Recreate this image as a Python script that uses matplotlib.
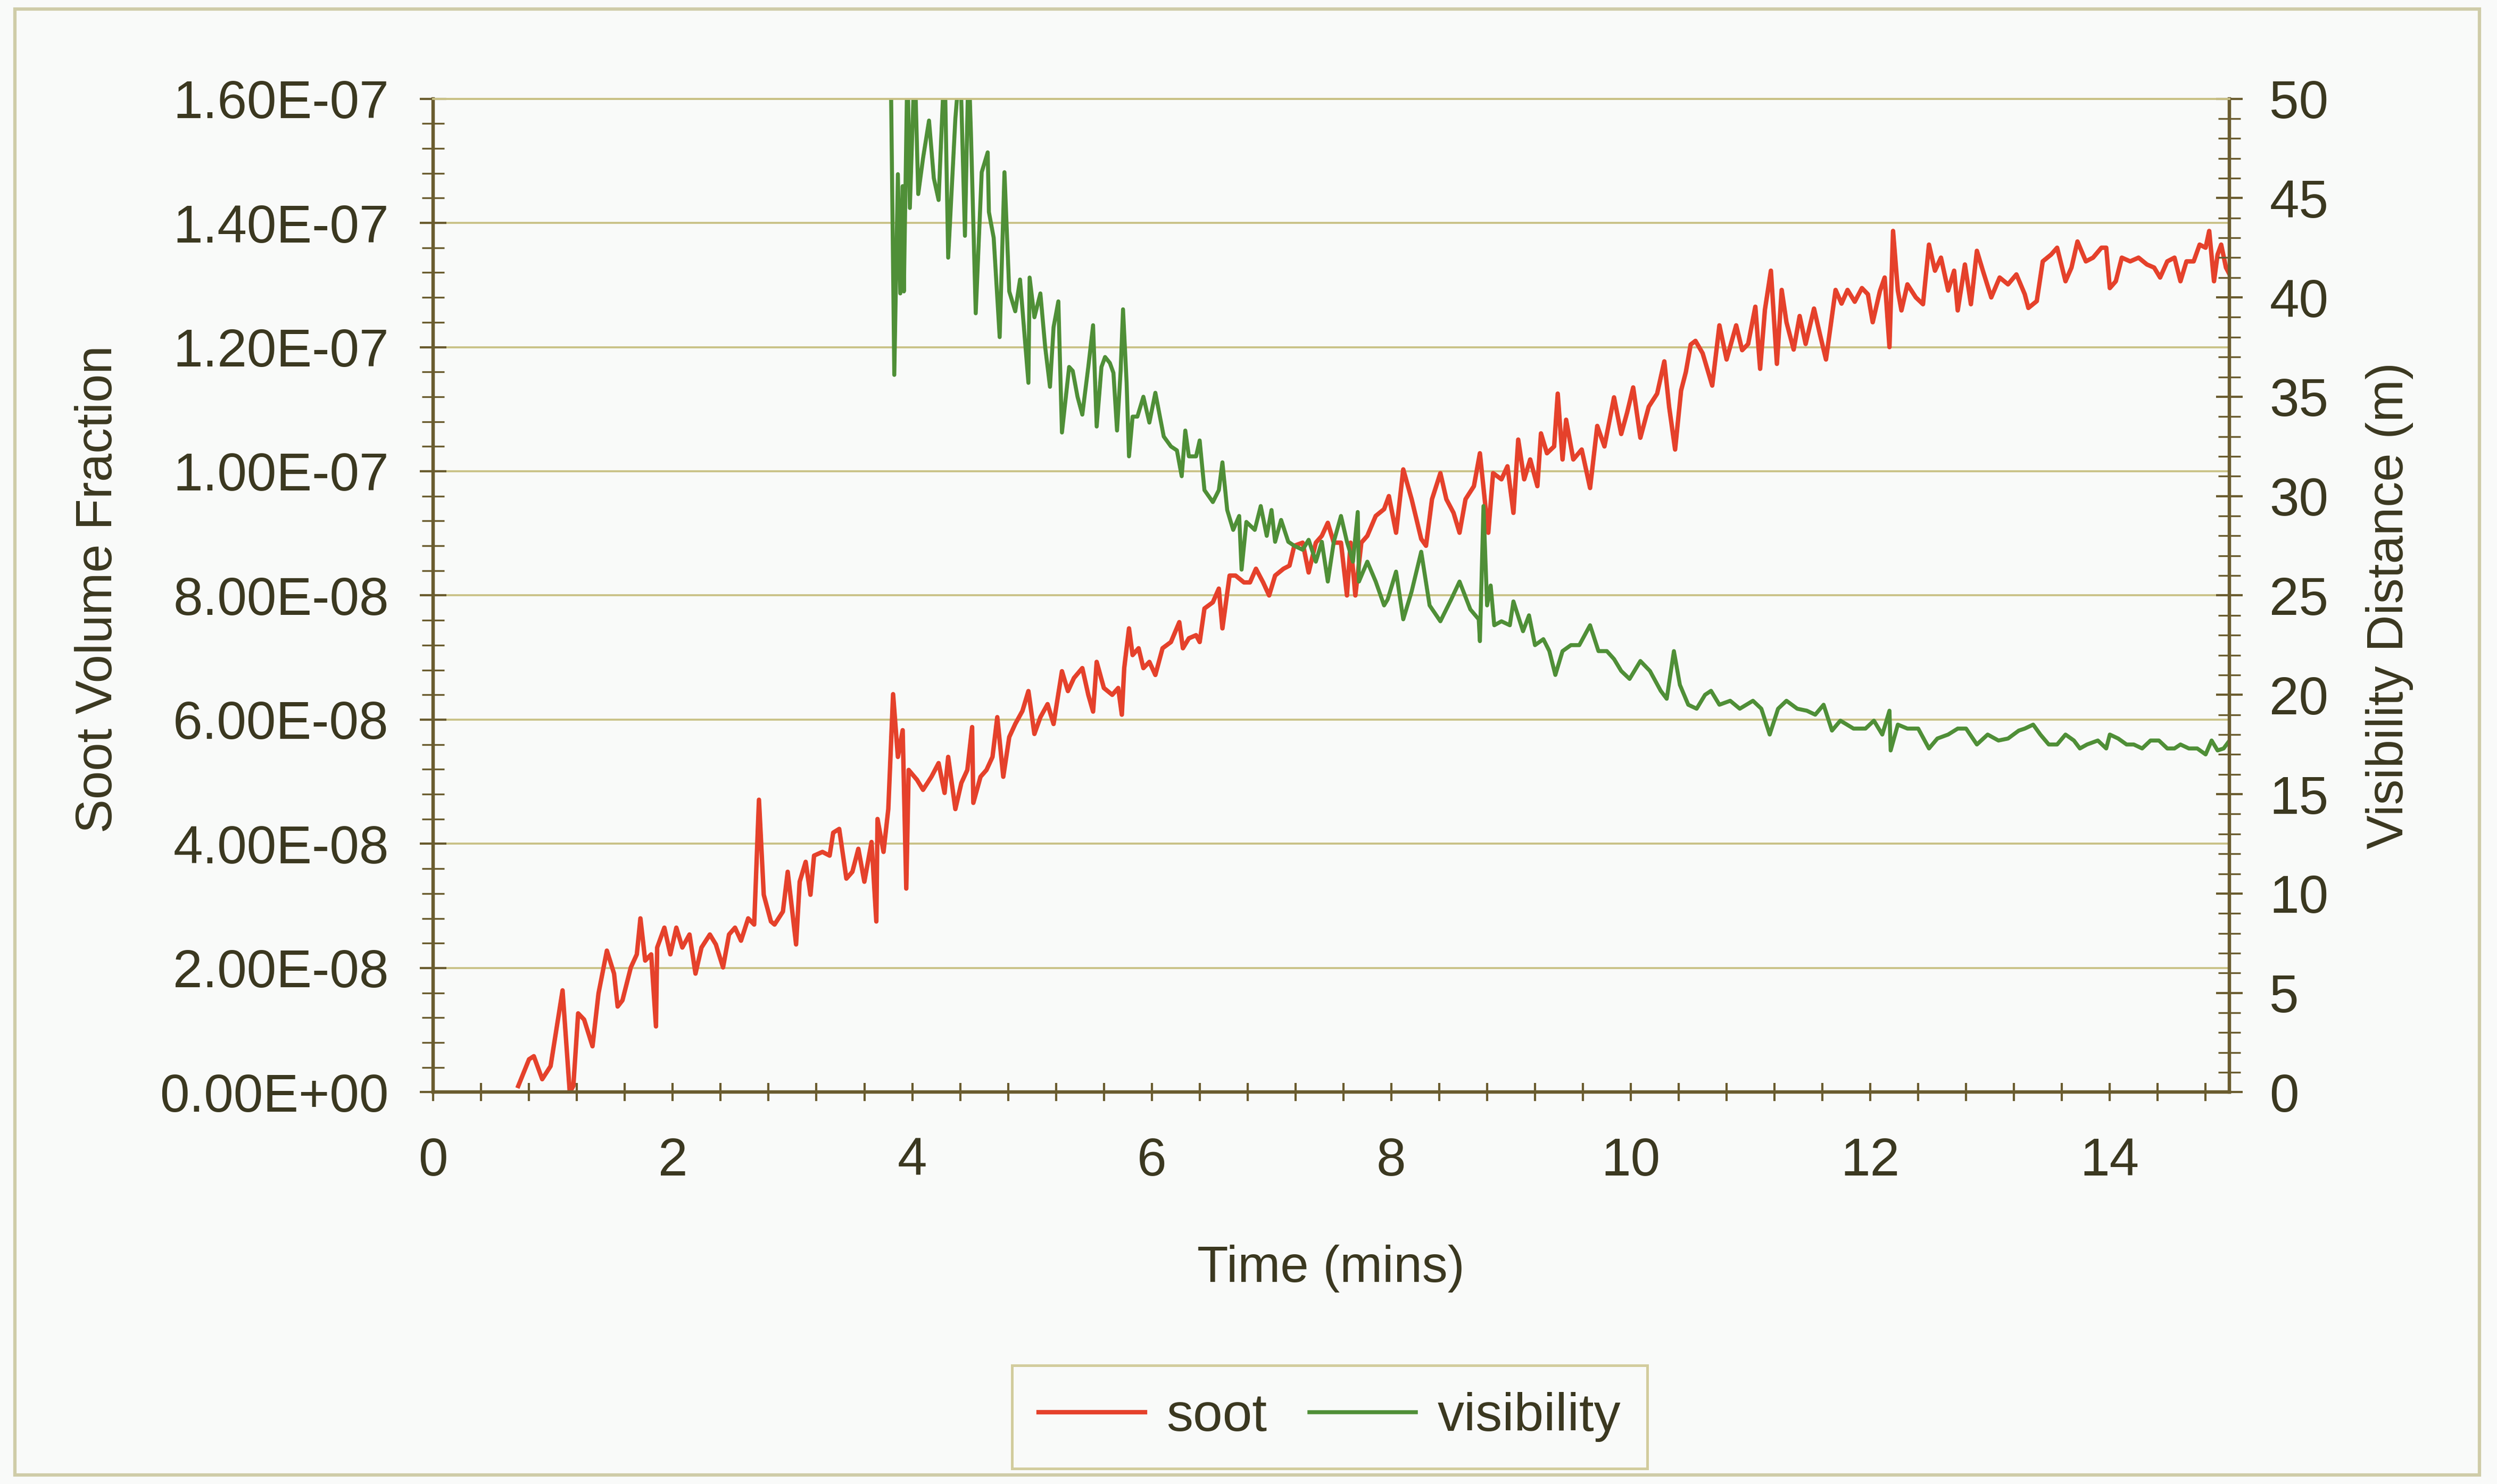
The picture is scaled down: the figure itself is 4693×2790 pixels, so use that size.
import matplotlib
matplotlib.use('Agg')
import matplotlib.pyplot as plt
from matplotlib.ticker import MultipleLocator, FuncFormatter
from matplotlib.patches import Rectangle

plt.rcParams['font.family'] = ['Liberation Sans', 'DejaVu Sans']

# soot volume fraction (values in units of 1e-8)
SOOT_UNIT = 1e-8
soot_t = [0.71, 0.80, 0.84, 0.91, 0.98, 1.08, 1.14, 1.17, 1.21, 1.26, 1.33, 1.38, 1.45, 1.51, 1.54, 1.58,
          1.65, 1.70, 1.73, 1.77, 1.82, 1.86, 1.87, 1.93, 1.98, 2.03, 2.08, 2.14, 2.19, 2.24, 2.31, 2.36,
          2.42, 2.47, 2.52, 2.57, 2.63, 2.68, 2.72, 2.76, 2.82, 2.85, 2.92, 2.96, 3.03, 3.06, 3.11, 3.15,
          3.18, 3.25, 3.31, 3.34, 3.39, 3.45, 3.50, 3.55, 3.60, 3.66, 3.70, 3.71, 3.76, 3.80, 3.84, 3.88,
          3.92, 3.95, 3.97, 4.04, 4.09, 4.16, 4.22, 4.27, 4.30, 4.36, 4.41, 4.46, 4.50, 4.51, 4.57, 4.62,
          4.67, 4.71, 4.76, 4.81, 4.86, 4.92, 4.97, 5.02, 5.07, 5.13, 5.18, 5.25, 5.30, 5.35, 5.42, 5.47,
          5.51, 5.54, 5.60, 5.67, 5.72, 5.75, 5.77, 5.81, 5.84, 5.89, 5.93, 5.98, 6.03, 6.09, 6.16, 6.23,
          6.26, 6.31, 6.37, 6.40, 6.44, 6.51, 6.56, 6.59, 6.65, 6.70, 6.77, 6.82, 6.87, 6.93, 6.98, 7.03,
          7.10, 7.15, 7.19, 7.26, 7.31, 7.37, 7.42, 7.47, 7.52, 7.58, 7.63, 7.66, 7.70, 7.75, 7.80, 7.87,
          7.94, 7.98, 8.04, 8.10, 8.17, 8.25, 8.29, 8.34, 8.41, 8.46, 8.52, 8.57, 8.62, 8.69, 8.74, 8.78,
          8.81, 8.85, 8.92, 8.97, 9.02, 9.06, 9.11, 9.16, 9.22, 9.25, 9.30, 9.36, 9.39, 9.43, 9.46, 9.52,
          9.59, 9.66, 9.72, 9.78, 9.86, 9.92, 9.97, 10.02, 10.08, 10.15, 10.22, 10.28, 10.32, 10.37, 10.42,
          10.46, 10.50, 10.54, 10.60, 10.68, 10.74, 10.80, 10.88, 10.93, 10.98, 11.04, 11.08, 11.12, 11.17,
          11.22, 11.26, 11.30, 11.36, 11.41, 11.46, 11.53, 11.58, 11.63, 11.71, 11.76, 11.81, 11.87, 11.93,
          11.98, 12.02, 12.08, 12.12, 12.16, 12.19, 12.23, 12.26, 12.31, 12.38, 12.44, 12.49,
          12.54, 12.59, 12.65, 12.70, 12.73, 12.79, 12.84, 12.89, 12.94, 13.01, 13.08, 13.15, 13.22, 13.29,
          13.32, 13.39, 13.44, 13.51, 13.56, 13.63, 13.68, 13.73, 13.80, 13.86, 13.93, 13.97, 14.00, 14.05,
          14.10, 14.17, 14.24, 14.31, 14.37, 14.42, 14.48, 14.54, 14.59, 14.64, 14.70, 14.75, 14.80, 14.83,
          14.87, 14.90, 14.93, 14.97, 15.00]
soot_v = [0.10, 0.53, 0.58, 0.21, 0.42, 1.64, 0.00, 0.10, 1.27, 1.17, 0.74, 1.59, 2.28, 1.91, 1.38, 1.48,
          2.01, 2.22, 2.80, 2.12, 2.22, 1.06, 2.33, 2.65, 2.22, 2.65, 2.33, 2.54, 1.91, 2.33, 2.54, 2.38,
          2.01, 2.54, 2.65, 2.44, 2.80, 2.70, 4.71, 3.18, 2.75, 2.70, 2.91, 3.55, 2.38, 3.39, 3.71, 3.18,
          3.81, 3.87, 3.81, 4.18, 4.24, 3.44, 3.55, 3.92, 3.39, 4.03, 2.75, 4.40, 3.87, 4.56, 6.41, 5.40,
          5.83, 3.28, 5.19, 5.03, 4.87, 5.08, 5.30, 4.82, 5.40, 4.56, 4.98, 5.19, 5.88, 4.66, 5.08, 5.19,
          5.40, 6.04, 5.08, 5.72, 5.93, 6.14, 6.46, 5.77, 6.04, 6.25, 5.93, 6.78, 6.46, 6.67, 6.83, 6.40,
          6.13, 6.93, 6.51, 6.40, 6.51, 6.08, 6.83, 7.47, 7.04, 7.15, 6.83, 6.93, 6.72, 7.15, 7.25, 7.57,
          7.15, 7.31, 7.36, 7.25, 7.79, 7.89, 8.11, 7.47, 8.32, 8.32, 8.21, 8.21, 8.43, 8.21, 8.00, 8.32,
          8.43, 8.48, 8.80, 8.85, 8.37, 8.85, 8.96, 9.17, 8.85, 8.85, 8.00, 8.85, 8.00, 8.85, 8.96, 9.28,
          9.39, 9.60, 9.01, 10.03, 9.55, 8.91, 8.80, 9.55, 9.97, 9.55, 9.33, 9.01, 9.55, 9.76, 10.29, 9.55,
          9.01, 9.97, 9.87, 10.08, 9.33, 10.51, 9.87, 10.19, 9.76, 10.61, 10.29, 10.40, 11.25, 10.19, 10.83, 10.19,
          10.35, 9.73, 10.73, 10.40, 11.19, 10.60, 10.95, 11.35, 10.54, 11.04, 11.25, 11.77, 11.04, 10.35, 11.30,
          11.60, 12.04, 12.10, 11.90, 11.38, 12.35, 11.80, 12.35, 11.95, 12.05, 12.65, 11.65, 12.60, 13.23,
          11.73, 12.92, 12.40, 11.96, 12.50, 12.05, 12.62, 12.20, 11.80, 12.92, 12.70, 12.92, 12.73, 12.95,
          12.85, 12.40, 12.90, 13.12, 12.00, 13.87, 12.91, 12.59, 13.01, 12.80, 12.69, 13.65,
          13.23, 13.44, 12.91, 13.23, 12.59, 13.33, 12.69, 13.55, 13.23, 12.80, 13.12, 13.01, 13.17, 12.85,
          12.63, 12.74, 13.38, 13.49, 13.60, 13.06, 13.28, 13.70, 13.38, 13.44, 13.60, 13.60, 12.95, 13.06,
          13.44, 13.38, 13.44, 13.33, 13.28, 13.12, 13.38, 13.44, 13.06, 13.38, 13.38, 13.65, 13.60, 13.87,
          13.06, 13.49, 13.65, 13.28, 13.17]

# visibility distance (m); values above 50 run off the top of the chart
vis_t = [3.82, 3.85, 3.88, 3.90, 3.92, 3.93, 3.96, 3.98, 4.02, 4.05, 4.09, 4.14, 4.18, 4.22,
         4.27, 4.30, 4.36, 4.40, 4.44, 4.47, 4.49, 4.53, 4.58, 4.63, 4.64, 4.68, 4.73, 4.77, 4.81,
         4.86, 4.90, 4.97, 4.98, 5.02, 5.07, 5.11, 5.15, 5.18, 5.22, 5.25, 5.31, 5.34, 5.38, 5.42, 5.47,
         5.51, 5.54, 5.58, 5.61, 5.65, 5.68, 5.71, 5.74, 5.76, 5.79, 5.81, 5.84, 5.88, 5.93, 5.98, 6.03,
         6.10, 6.16, 6.21, 6.25, 6.28, 6.31, 6.37, 6.40, 6.44, 6.51, 6.56, 6.59, 6.63, 6.68, 6.73, 6.75,
         6.79, 6.86, 6.91, 6.96, 7.00, 7.03, 7.08, 7.14, 7.19, 7.26, 7.31, 7.37, 7.42, 7.47, 7.52, 7.58,
         7.63, 7.68, 7.72, 7.73, 7.80, 7.87, 7.94, 7.97, 8.04, 8.10, 8.17, 8.25, 8.32, 8.41, 8.50, 8.57,
         8.66, 8.73, 8.74, 8.77, 8.80, 8.83, 8.86, 8.92, 8.99, 9.02, 9.10, 9.15, 9.20, 9.27, 9.32, 9.37,
         9.43, 9.50, 9.57, 9.66, 9.73, 9.80, 9.86, 9.92, 9.99, 10.08, 10.16, 10.25, 10.30, 10.36, 10.41,
         10.48, 10.55, 10.62, 10.67, 10.74, 10.83, 10.91, 11.02, 11.09, 11.16, 11.23, 11.30, 11.39, 11.47,
         11.54, 11.61, 11.68, 11.75, 11.86, 11.96, 12.03, 12.10, 12.16, 12.17, 12.23, 12.31, 12.40, 12.49,
         12.56, 12.65, 12.73, 12.80, 12.89, 12.98, 13.07, 13.15, 13.24, 13.29, 13.36, 13.42, 13.49, 13.56,
         13.63, 13.70, 13.75, 13.81, 13.90, 13.97, 14.00, 14.07, 14.14, 14.20, 14.27, 14.34, 14.41, 14.48,
         14.54, 14.59, 14.66, 14.73, 14.80, 14.85, 14.90, 14.95, 15.00]
vis_v = [52.0, 36.1, 46.2, 40.2, 45.6, 40.3, 52.0, 44.5, 52.0, 45.2, 47.0, 48.9, 46.0, 44.9,
         52.0, 42.0, 49.0, 52.0, 43.1, 52.0, 48.3, 39.2, 46.3, 47.3, 44.3, 43.0, 38.0, 46.3, 40.3,
         39.3, 40.9, 35.7, 41.0, 39.0, 40.2, 37.5, 35.5, 38.5, 39.8, 33.2, 36.5, 36.3, 35.0, 34.1, 36.5,
         38.6, 33.5, 36.5, 37.0, 36.7, 36.2, 33.3, 36.3, 39.4, 35.7, 32.0, 34.0, 34.0, 35.0, 33.7, 35.2,
         33.0, 32.5, 32.3, 31.0, 33.3, 32.0, 32.0, 32.8, 30.3, 29.7, 30.3, 31.7, 29.3, 28.3, 29.0, 26.3,
         28.7, 28.3, 29.5, 28.0, 29.3, 27.7, 28.8, 27.7, 27.5, 27.3, 27.8, 26.7, 27.7, 25.7, 27.7, 29.0,
         27.7, 26.7, 29.2, 25.7, 26.7, 25.7, 24.5, 24.8, 26.2, 23.8, 25.2, 27.2, 24.5, 23.7, 24.8, 25.7,
         24.3, 23.8, 22.7, 29.5, 24.5, 25.5, 23.5, 23.7, 23.5, 24.7, 23.2, 24.0, 22.5, 22.8, 22.2, 21.0,
         22.2, 22.5, 22.5, 23.5, 22.2, 22.2, 21.8, 21.2, 20.8, 21.7, 21.2, 20.2, 19.8, 22.2, 20.5,
         19.5, 19.3, 20.0, 20.2, 19.5, 19.7, 19.3, 19.7, 19.3, 18.0, 19.3, 19.7, 19.3, 19.2,
         19.0, 19.5, 18.2, 18.7, 18.3, 18.3, 18.7, 18.0, 19.2, 17.2, 18.5, 18.3, 18.3, 17.3,
         17.8, 18.0, 18.3, 18.3, 17.5, 18.0, 17.7, 17.8, 18.2, 18.3, 18.5, 18.0, 17.5, 17.5,
         18.0, 17.7, 17.3, 17.5, 17.7, 17.3, 18.0, 17.8, 17.5, 17.5, 17.3, 17.7, 17.7, 17.3,
         17.3, 17.5, 17.3, 17.3, 17.0, 17.7, 17.2, 17.3, 17.7]

x_major = [0, 2, 4, 6, 8, 10, 12, 14]

bg = '#f9faf9'
grid_col = '#c9c186'
axis_col = '#6a5c2f'
text_col = '#3b3820'
soot_col = '#e5412b'
vis_col = '#4f8f37'

fig = plt.figure(figsize=(4693 / 300, 2790 / 300), dpi=300, facecolor=bg)
ax = fig.add_axes([0.1735, 0.264, 0.7194, 0.6695])
ax.set_facecolor(bg)
ax2 = ax.twinx()

soot_line, = ax.plot(soot_t, [v * SOOT_UNIT for v in soot_v], color=soot_col, lw=2.0, label='soot')
vis_line, = ax2.plot(vis_t, vis_v, color=vis_col, lw=1.8, label='visibility')

ax.set_xlim(0, 15)
ax.set_ylim(0, 1.6e-7)
ax2.set_ylim(0, 50)

ax.set_xticks(x_major)
ax.xaxis.set_minor_locator(MultipleLocator(0.4))
ax.yaxis.set_major_locator(MultipleLocator(2e-8))
ax.yaxis.set_minor_locator(MultipleLocator(4e-9))
ax.yaxis.set_major_formatter(FuncFormatter(lambda v, p: f'{v:.2E}'))
ax2.yaxis.set_major_locator(MultipleLocator(5))
ax2.yaxis.set_minor_locator(MultipleLocator(1))

ax.grid(True, axis='y', color=grid_col, lw=0.9)
ax.set_axisbelow(True)

for a in (ax, ax2):
    for s in a.spines.values():
        s.set_color(axis_col)
        s.set_linewidth(1.5)
    a.spines['top'].set_color(grid_col)
    a.spines['top'].set_linewidth(0.9)

ax.tick_params(axis='y', which='both', direction='inout', colors=axis_col, labelcolor=text_col,
               labelsize=24, pad=14)
ax.tick_params(axis='y', which='major', length=12, width=1.0)
ax.tick_params(axis='y', which='minor', length=10, width=0.8)
ax.tick_params(axis='x', which='both', direction='inout', length=8, width=1.0, colors=axis_col,
               labelcolor=text_col, labelsize=24, pad=16)
ax2.tick_params(axis='y', which='both', direction='inout', colors=axis_col, labelcolor=text_col,
                labelsize=24, pad=12)
ax2.tick_params(axis='y', which='major', length=12, width=1.0)
ax2.tick_params(axis='y', which='minor', length=10, width=0.8)

fig.text(0.0395, 0.603, 'Soot Volume Fraction', rotation=90, ha='center', va='center',
         fontsize=23, color=text_col)
fig.text(0.957, 0.592, 'Visibility Distance (m)', rotation=90, ha='center', va='center',
         fontsize=23, color=text_col)
fig.text(0.533, 0.145, 'Time (mins)', ha='center', va='center', fontsize=23, color=text_col)

leg = fig.legend(handles=[soot_line, vis_line], loc='center', bbox_to_anchor=(0.5325, 0.045),
                 ncol=2, fontsize=24, frameon=True, fancybox=False, handlelength=2.0,
                 columnspacing=0.8, handletextpad=0.4, borderpad=0.5)
leg.get_frame().set_edgecolor(grid_col)
leg.get_frame().set_facecolor(bg)
leg.get_frame().set_linewidth(1.2)
for t in leg.get_texts():
    t.set_color(text_col)

# outer chart border
fig.patches.append(Rectangle((0.006, 0.006), 0.987, 0.988, transform=fig.transFigure,
                             fill=False, edgecolor='#cfcca8', lw=1.5))

fig.savefig('out.png', dpi=300, facecolor=bg)
